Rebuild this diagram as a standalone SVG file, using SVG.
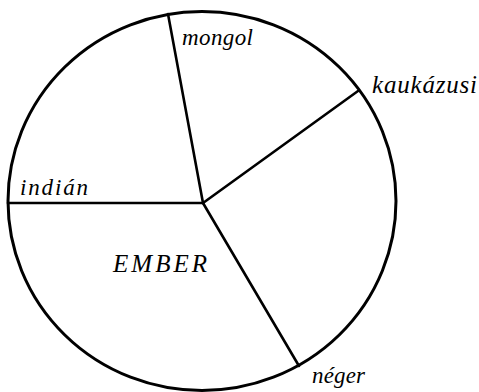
<svg xmlns="http://www.w3.org/2000/svg" width="479" height="392" viewBox="0 0 479 392">
<style>
text{font-family:'Liberation Serif','Times New Roman',serif;font-style:italic;fill:#000}
.spoke{stroke:#000;stroke-width:2.6;stroke-linecap:round;fill:none}
</style>
<rect width="479" height="392" fill="#fff"/>
<g id="circle">
<ellipse cx="202" cy="201" rx="194" ry="189.5" fill="none" stroke="#000" stroke-width="3"/>
</g>
<g id="connectors">
<line class="spoke" x1="203" y1="203" x2="168" y2="14" stroke-width="2.2"/>
<line class="spoke" x1="203" y1="203" x2="358" y2="91"/>
<line class="spoke" x1="203" y1="203" x2="299" y2="366"/>
<line class="spoke" x1="203" y1="203" x2="8" y2="203" stroke-width="3"/>
</g>
<g id="mongol"><text x="182" y="45" font-size="23" textLength="71" lengthAdjust="spacing">mongol</text></g>
<g id="kaukazusi"><text x="372" y="93" font-size="25" textLength="105" lengthAdjust="spacing">kaukázusi</text></g>
<g id="indian"><text x="20" y="195" font-size="23" textLength="68" lengthAdjust="spacing">indián</text></g>
<g id="ember"><text x="113" y="272" font-size="25" textLength="94" lengthAdjust="spacing">EMBER</text></g>
<g id="neger"><text x="312" y="383" font-size="23" textLength="53" lengthAdjust="spacing">néger</text></g>
</svg>
